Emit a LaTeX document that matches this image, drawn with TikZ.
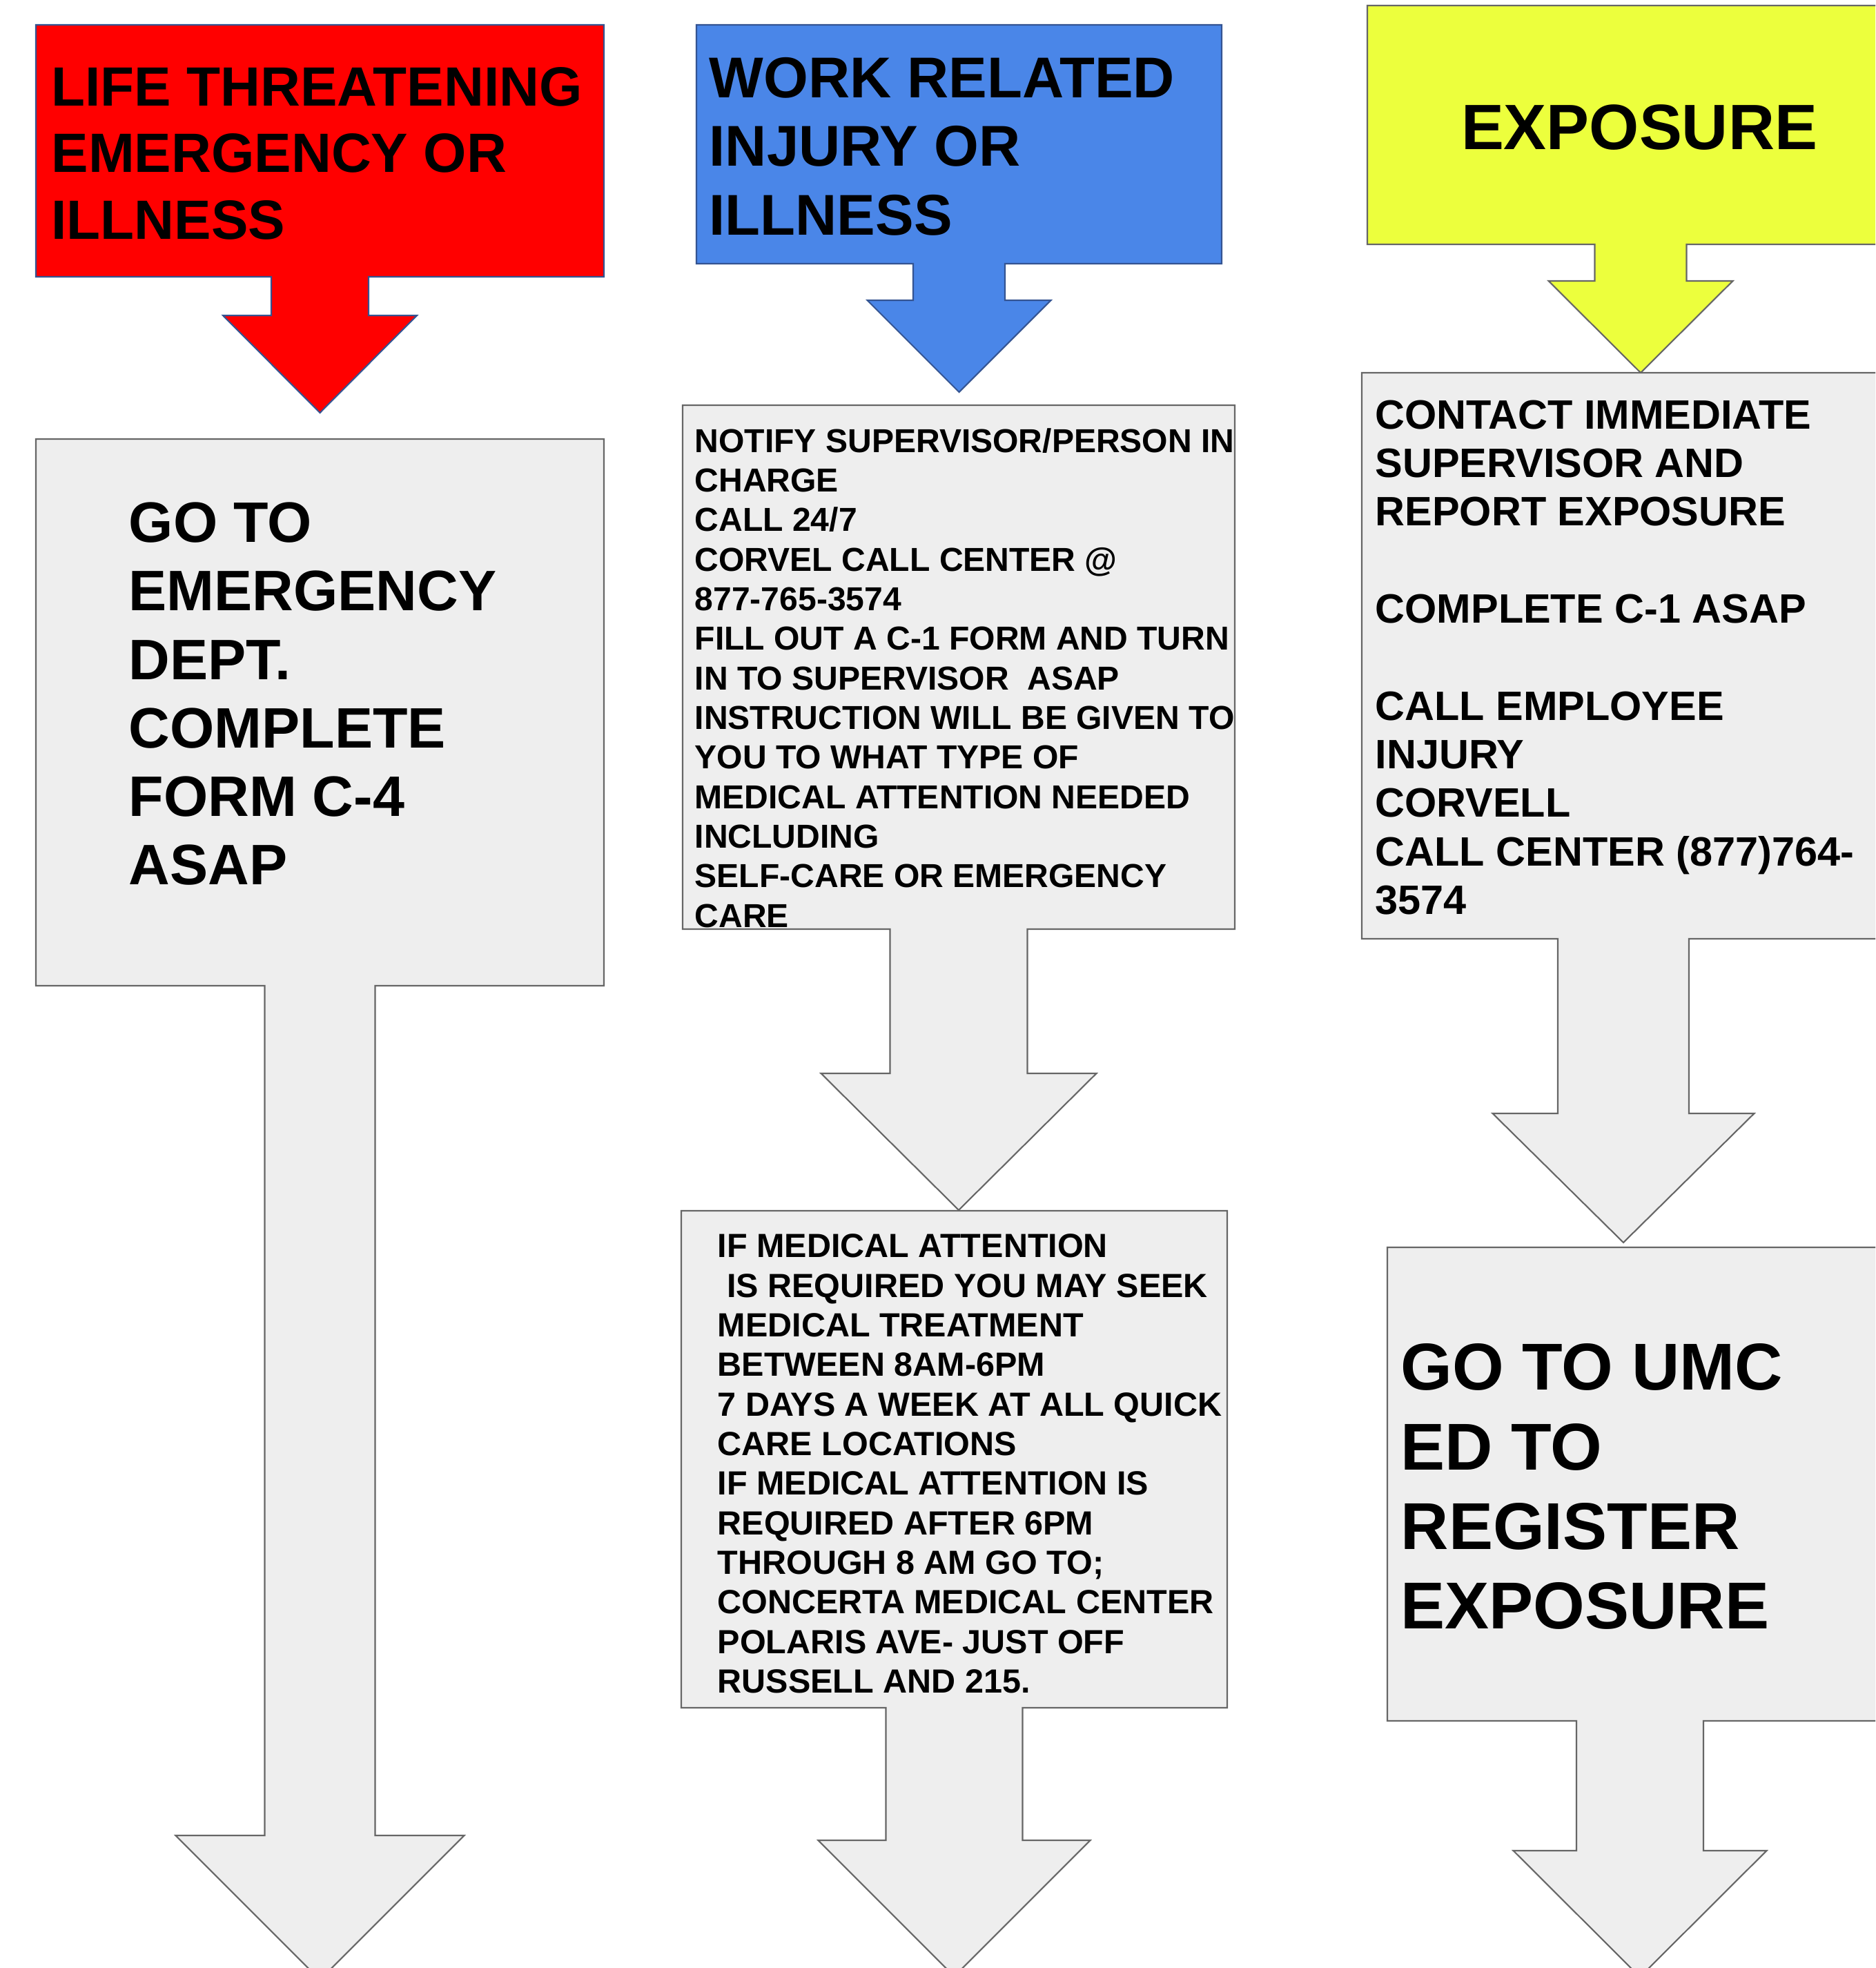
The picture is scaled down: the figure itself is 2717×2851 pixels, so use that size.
\documentclass[tikz,border=0pt]{standalone}
\usepackage{fontspec}
\setmainfont{Liberation Sans}
\usepackage{xcolor}
\usepackage{tikz}
\usetikzlibrary{positioning,calc}
\definecolor{lifered}{RGB}{255,0,0}
\definecolor{workblue}{RGB}{74,134,232}
\definecolor{exposeyellow}{RGB}{236,255,61}
\definecolor{stepgray}{RGB}{238,238,238}
\definecolor{edgeblue}{RGB}{52,84,146}
\definecolor{edgegray}{RGB}{102,102,102}
\tikzset{
    callout/.style={
        line width=0.6pt,
        line join=miter
    },
    redcallout/.style={callout, fill=lifered, draw=edgeblue},
    bluecallout/.style={callout, fill=workblue, draw=edgeblue},
    yellowcallout/.style={callout, fill=exposeyellow, draw=edgegray},
    graycallout/.style={callout, fill=stepgray, draw=edgegray},
    bodytext/.style={
        anchor=north west,
        inner sep=0pt,
        align=left,
        text=black
    }
}
% first line strut: node top sits 1cm above the first baseline
\newcommand{\lineup}{\rule{0pt}{1cm}}
% box from (#2,#4) to (#3,#5) with a down arrow hanging from its middle
% #6 shaft half width, #7 head half width, #8 head top, #9 tip
\newcommand{\downcallout}[9]{%
  \draw[#1] (#2,#4) -- (#3,#4) -- (#3,#5)
    -- ({(#2+#3)/2+#6},#5) -- ({(#2+#3)/2+#6},#8) -- ({(#2+#3)/2+#7},#8)
    -- ({(#2+#3)/2},#9)
    -- ({(#2+#3)/2-#7},#8) -- ({(#2+#3)/2-#6},#8) -- ({(#2+#3)/2-#6},#5)
    -- (#2,#5) -- cycle;}

\begin{document}
\begin{tikzpicture}[x=0.01cm, y=-0.01cm]
\useasboundingbox (0,0) rectangle (2717,2851);
\clip (0,0) rectangle (2717,2851);

% LIFE THREATENING column
\downcallout{redcallout}{52}{875}{36}{401}{70.5}{140.5}{457}{598}
\downcallout{graycallout}{52}{875}{636}{1428}{80}{209}{2659}{2868}
\node[bodytext, font=\fontsize{22.8}{27.4}\selectfont\bfseries] (lifehead) at (74,52.6)
    {\lineup LIFE THREATENING\\EMERGENCY OR\\ILLNESS};
\node[bodytext, font=\fontsize{23.5}{28.2}\selectfont\bfseries] (erstep) at (186,685)
    {\lineup GO TO\\EMERGENCY\\DEPT.\\COMPLETE\\FORM C-4\\ASAP};

% WORK RELATED column
\downcallout{bluecallout}{1009}{1770}{36}{382}{66.5}{133}{435}{568}
\downcallout{graycallout}{989}{1789}{587}{1346}{99.5}{199.5}{1555}{1753}
\downcallout{graycallout}{987}{1778}{1754}{2474}{99}{197}{2666}{2863}
\node[bodytext, font=\fontsize{23.7}{28.3}\selectfont\bfseries] (workhead) at (1027,40.5)
    {\lineup WORK RELATED\\INJURY OR\\ILLNESS};
\node[bodytext, font=\fontsize{13.67}{16.3}\selectfont\bfseries] (notifystep) at (1006,554.4)
    {\lineup NOTIFY SUPERVISOR/PERSON IN\\CHARGE\\CALL 24/7\\CORVEL CALL CENTER @\\877-765-3574\\
     FILL OUT A C-1 FORM AND TURN\\IN TO SUPERVISOR\ \ ASAP\\INSTRUCTION WILL BE GIVEN TO\\
     YOU TO WHAT TYPE OF\\MEDICAL ATTENTION NEEDED\\INCLUDING\\SELF-CARE OR EMERGENCY\\CARE};
\node[bodytext, font=\fontsize{13.8}{16.3}\selectfont\bfseries] (carestep) at (1039,1721)
    {\lineup IF MEDICAL ATTENTION\\\ IS REQUIRED YOU MAY SEEK\\MEDICAL TREATMENT\\BETWEEN 8AM-6PM\\
     7 DAYS A WEEK AT ALL QUICK\\CARE LOCATIONS\\IF MEDICAL ATTENTION IS\\REQUIRED AFTER 6PM\\
     THROUGH 8 AM GO TO;\\CONCERTA MEDICAL CENTER\\POLARIS AVE- JUST OFF\\RUSSELL AND 215.};

% EXPOSURE column
\downcallout{yellowcallout}{1981}{2773}{8}{354}{66.5}{133.5}{407}{540}
\downcallout{graycallout}{1973}{2731}{540}{1360}{95}{189.5}{1613}{1800}
\downcallout{graycallout}{2010}{2742}{1807}{2493}{92}{183.5}{2681}{2864}
\node[inner sep=0pt, anchor=base, font=\fontsize{26.4}{31}\selectfont\bfseries] (exphead) at (2375,216)
    {EXPOSURE};
\node[bodytext, font=\fontsize{16.9}{20.0}\selectfont\bfseries] (contactstep) at (1992,520.5)
    {\lineup CONTACT IMMEDIATE\\SUPERVISOR AND\\REPORT EXPOSURE\\\mbox{}\\COMPLETE C-1 ASAP\\\mbox{}\\
     CALL EMPLOYEE\\INJURY\\CORVELL\\CALL CENTER (877)764-\\3574};
\node[bodytext, font=\fontsize{27.3}{32.8}\selectfont\bfseries] (umcstep) at (2029,1913)
    {\lineup GO TO UMC\\ED TO\\REGISTER\\EXPOSURE};
\end{tikzpicture}
\end{document}
